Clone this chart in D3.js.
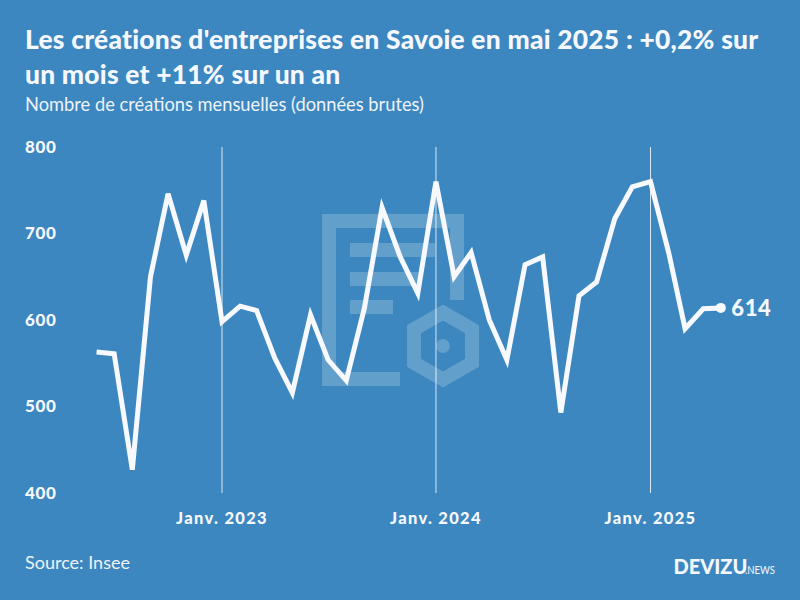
<!DOCTYPE html>
<html>
<head>
<meta charset="utf-8">
<script src="https://cdnjs.cloudflare.com/ajax/libs/d3/7.8.5/d3.min.js"></script>
<style>
  html, body { margin: 0; padding: 0; background: #3c87bf; }
  svg { display: block; }
  text { font-family: Lato, "Open Sans", sans-serif; fill: #f6f8ff; }
  .title { font-size: 26.4px; font-weight: 900; letter-spacing: 0.23px; }
  .subtitle { font-size: 18.3px; font-weight: 400; fill: #eef3fa; }
  .ytick { font-size: 17px; font-weight: 900; letter-spacing: 0.6px; }
  .xtick { font-size: 16.5px; font-weight: 900; letter-spacing: 1.3px; }
  .source { font-size: 18px; font-weight: 400; fill: #eef3fa; }
  .last { font-size: 22px; font-weight: 900; letter-spacing: 0.6px; }
</style>
</head>
<body>
<div id="chart"></div>
<script>
// monthly values, June 2022 to May 2025
const months = [
  "2022-06", "2022-07", "2022-08", "2022-09", "2022-10", "2022-11", "2022-12",
  "2023-01", "2023-02", "2023-03", "2023-04", "2023-05", "2023-06", "2023-07",
  "2023-08", "2023-09", "2023-10", "2023-11", "2023-12", "2024-01", "2024-02",
  "2024-03", "2024-04", "2024-05", "2024-06", "2024-07", "2024-08", "2024-09",
  "2024-10", "2024-11", "2024-12", "2025-01", "2025-02", "2025-03", "2025-04",
  "2025-05"
];
const creations = [
  563, 561, 427, 650, 746, 675, 738,
  598, 616, 611, 556, 516, 606, 554,
  530, 614, 730, 673, 631, 760, 650,
  678, 600, 554, 664, 673, 493, 628,
  644, 717, 754, 760, 678, 590, 613,
  614
];
const yTicks = [400, 500, 600, 700, 800];
const xTicks = ["2023-01", "2024-01", "2025-01"];
const xTickLabels = ["Janv. 2023", "Janv. 2024", "Janv. 2025"];

const width = 800;
const height = 600;
const parseMonth = d3.timeParse("%Y-%m");

const svg = d3.select("#chart")
    .append("svg")
    .attr("width", width)
    .attr("height", height);

svg.append("rect")
    .attr("width", width)
    .attr("height", height)
    .attr("fill", "#3c87bf");

const x = d3.scaleTime()
    .domain([parseMonth("2023-01"), parseMonth("2025-01")])
    .range([222, 650.5]);

const y = d3.scaleLinear()
    .domain([400, 800])
    .range([493, 147]);

// watermark logo behind the chart
const logo = svg.append("g")
    .attr("fill", "none")
    .attr("stroke", "#fff")
    .attr("stroke-opacity", 0.2)
    .attr("stroke-width", 14);

logo.append("path").attr("d", "M400,379 H329 V221 H457 V300");
logo.append("path").attr("d", "M350,250 H435 M350,279 H418 M350,307 H393");
logo.append("path").attr("d", "M443,312.5 L472,329.25 V362.75 L443,379.5 L414,362.75 V329.25 Z");
logo.append("circle")
    .attr("cx", 443)
    .attr("cy", 346)
    .attr("r", 7)
    .attr("fill", "#fff")
    .attr("fill-opacity", 0.2)
    .attr("stroke", "none");

// vertical year lines
svg.append("g").selectAll("line")
    .data(xTicks)
    .enter().append("line")
    .attr("x1", d => x(parseMonth(d)))
    .attr("x2", d => x(parseMonth(d)))
    .attr("y1", y(800))
    .attr("y2", y(400))
    .attr("stroke", "#fff")
    .attr("stroke-opacity", 0.8)
    .attr("stroke-width", 1);

svg.append("g").selectAll("text")
    .data(xTicks)
    .enter().append("text")
    .attr("class", "xtick")
    .attr("x", d => x(parseMonth(d)))
    .attr("y", 524)
    .attr("text-anchor", "middle")
    .text((d, i) => xTickLabels[i]);

svg.append("g").selectAll("text")
    .data(yTicks)
    .enter().append("text")
    .attr("class", "ytick")
    .attr("x", 25)
    .attr("y", d => y(d) + 5.5)
    .text(d => d);

const line = d3.line()
    .x((d, i) => x(parseMonth(months[i])))
    .y(d => y(d));

svg.append("path")
    .datum(creations)
    .attr("d", line)
    .attr("fill", "none")
    .attr("stroke", "#f8f9ff")
    .attr("stroke-width", 5)
    .attr("stroke-linejoin", "miter")
    .attr("stroke-miterlimit", 4);

const lastX = x(parseMonth(months[months.length - 1]));
const lastY = y(creations[creations.length - 1]);

svg.append("circle")
    .attr("cx", lastX)
    .attr("cy", lastY)
    .attr("r", 5)
    .attr("fill", "#f8f9ff");

svg.append("text")
    .attr("class", "last")
    .attr("x", lastX + 10.5)
    .attr("y", lastY + 8)
    .text(creations[creations.length - 1]);

svg.append("text").attr("class", "title").attr("x", 25).attr("y", 49)
    .text("Les créations d'entreprises en Savoie en mai 2025 : +0,2% sur");
svg.append("text").attr("class", "title").attr("x", 25).attr("y", 84)
    .text("un mois et +11% sur un an");
svg.append("text").attr("class", "subtitle").attr("x", 25).attr("y", 111)
    .text("Nombre de créations mensuelles (données brutes)");
svg.append("text").attr("class", "source").attr("x", 25).attr("y", 569)
    .text("Source: Insee");

svg.append("text")
    .attr("x", 673.5)
    .attr("y", 574)
    .attr("font-size", 20)
    .attr("font-weight", 900)
    .text("DEVIZU");
svg.append("text")
    .attr("x", 745)
    .attr("y", 574)
    .attr("font-size", 11.5)
    .attr("font-weight", 400)
    .attr("textLength", 30)
    .attr("lengthAdjust", "spacingAndGlyphs")
    .text(".NEWS");
</script>
</body>
</html>
